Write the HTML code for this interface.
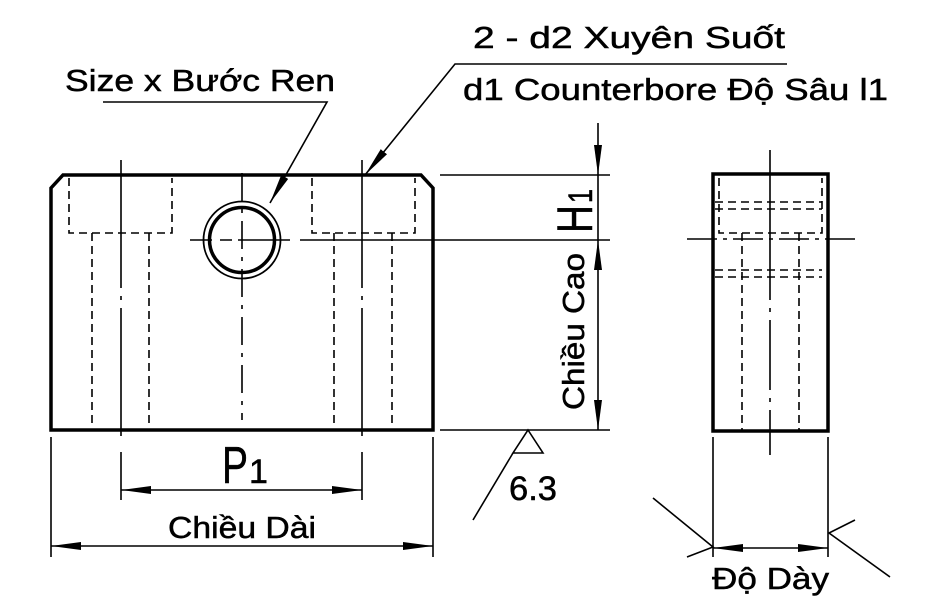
<!DOCTYPE html>
<html><head><meta charset="utf-8"><style>
html,body{margin:0;padding:0;background:#fff;}
svg{display:block;}
text{font-family:"Liberation Sans",sans-serif;fill:#000;stroke:#000;stroke-width:0.5;}
</style></head><body>
<svg width="935" height="613" viewBox="0 0 935 613" xmlns="http://www.w3.org/2000/svg">
<defs>
<marker id="ar" viewBox="0 0 30 10" refX="30" refY="5" markerWidth="30" markerHeight="10" markerUnits="userSpaceOnUse" orient="auto"><path d="M0,1 L30,5 L0,9 Z" fill="#000"/></marker>
</defs>
<g stroke="#000" fill="none">
<path d="M63,175 L421,175 L433,188 L433,430 L51,430 L51,188 Z" stroke-width="3.5"/>
<g stroke-width="1.6" stroke-dasharray="128,8,4,8">
<line x1="121" y1="160" x2="121" y2="442"/>
<line x1="362" y1="160" x2="362" y2="442"/>
</g>
<line x1="242" y1="173" x2="242" y2="420" stroke-width="1.6" stroke-dasharray="28,8,4,8"/>
<path d="M190,240 L212,240 M220,240 L232,240 M238,240 L290,240 M300,240 L610,240" stroke-width="1.6"/>
<g stroke-width="1.6" stroke-dasharray="8,5">
<path d="M69,178 L69,233 L172,233 L172,178"/>
<path d="M312,178 L312,233 L415,233 L415,178"/>
<line x1="92" y1="233" x2="92" y2="428"/>
<line x1="149" y1="233" x2="149" y2="428"/>
<line x1="334" y1="233" x2="334" y2="428"/>
<line x1="392" y1="233" x2="392" y2="428"/>
</g>
<circle cx="242" cy="240" r="38.5" stroke-width="1.8"/>
<circle cx="242" cy="240" r="32.5" stroke-width="3.5"/>
<path d="M103,102 L327,102 L270,203" stroke-width="1.6" marker-end="url(#ar)"/>
<path d="M787,64 L455,64 L365,175" stroke-width="1.6" marker-end="url(#ar)"/>
<line x1="440" y1="175" x2="610" y2="175" stroke-width="1.6"/>
<line x1="440" y1="430" x2="610" y2="430" stroke-width="1.6"/>
<line x1="598" y1="123" x2="598" y2="175" stroke-width="1.6" marker-end="url(#ar)"/>
<line x1="598" y1="175" x2="598" y2="240" stroke-width="1.6"/>
<line x1="598" y1="335" x2="598" y2="240" stroke-width="1.6" marker-end="url(#ar)"/>
<line x1="598" y1="335" x2="598" y2="430" stroke-width="1.6" marker-end="url(#ar)"/>
<path d="M528,430 L543,453 L513,453 Z M513,453 L473,520" stroke-width="1.6"/>
<line x1="121" y1="452" x2="121" y2="500" stroke-width="1.6"/>
<line x1="362" y1="452" x2="362" y2="500" stroke-width="1.6"/>
<line x1="242" y1="490" x2="121" y2="490" stroke-width="1.6" marker-end="url(#ar)"/>
<line x1="242" y1="490" x2="362" y2="490" stroke-width="1.6" marker-end="url(#ar)"/>
<line x1="51" y1="437" x2="51" y2="557" stroke-width="1.6"/>
<line x1="433" y1="437" x2="433" y2="557" stroke-width="1.6"/>
<line x1="242" y1="546" x2="51" y2="546" stroke-width="1.6" marker-end="url(#ar)"/>
<line x1="242" y1="546" x2="433" y2="546" stroke-width="1.6" marker-end="url(#ar)"/>
<rect x="713" y="174" width="115" height="257" stroke-width="3.5"/>
<line x1="770" y1="150" x2="770" y2="455" stroke-width="1.6" stroke-dasharray="150,8,4,8,70,8,4,8"/>
<line x1="687" y1="239" x2="855" y2="239" stroke-width="1.6" stroke-dasharray="30,6,4,6"/>
<g stroke-width="1.6" stroke-dasharray="8,5">
<path d="M719,178 L719,233 L822,233 L822,178"/>
<line x1="715" y1="202" x2="822" y2="202"/>
<line x1="715" y1="209" x2="822" y2="209"/>
<line x1="715" y1="270" x2="822" y2="270"/>
<line x1="715" y1="277" x2="822" y2="277"/>
<line x1="742" y1="233" x2="742" y2="430"/>
<line x1="799" y1="233" x2="799" y2="430"/>
</g>
<line x1="713" y1="437" x2="713" y2="557" stroke-width="1.6"/>
<line x1="828" y1="437" x2="828" y2="557" stroke-width="1.6"/>
<line x1="770" y1="548" x2="713" y2="548" stroke-width="1.6" marker-end="url(#ar)"/>
<line x1="770" y1="548" x2="828" y2="548" stroke-width="1.6" marker-end="url(#ar)"/>
<path d="M653,498 L713,547 L687,557" stroke-width="1.6"/>
<path d="M855,520 L829,533 L890,577" stroke-width="1.6"/>
</g>
<text x="65" y="91" font-size="31" textLength="270" lengthAdjust="spacingAndGlyphs">Size x Bước Ren</text>
<text x="473" y="48" font-size="31" textLength="312" lengthAdjust="spacingAndGlyphs">2 - d2 Xuyên Suốt</text>
<text x="463" y="100" font-size="31" textLength="425" lengthAdjust="spacingAndGlyphs">d1 Counterbore Độ Sâu l1</text>
<text x="168" y="538" font-size="31" textLength="148" lengthAdjust="spacingAndGlyphs">Chiều Dài</text>
<text x="712" y="589" font-size="31" textLength="117" lengthAdjust="spacingAndGlyphs">Độ Dày</text>
<text x="509" y="500" font-size="34" textLength="48" lengthAdjust="spacingAndGlyphs" stroke-width="0">6.3</text>
<text x="222" y="483" font-size="52" textLength="26" lengthAdjust="spacingAndGlyphs">P</text>
<text x="249" y="483" font-size="34">1</text>
<text transform="translate(584,410) rotate(-90)" font-size="31" textLength="157" lengthAdjust="spacingAndGlyphs">Chiều Cao</text>
<text transform="translate(592,233) rotate(-90)" font-size="50" textLength="28" lengthAdjust="spacingAndGlyphs">H</text>
<text transform="translate(592,203) rotate(-90)" font-size="34" textLength="14" lengthAdjust="spacingAndGlyphs">1</text>
</svg>
</body></html>
